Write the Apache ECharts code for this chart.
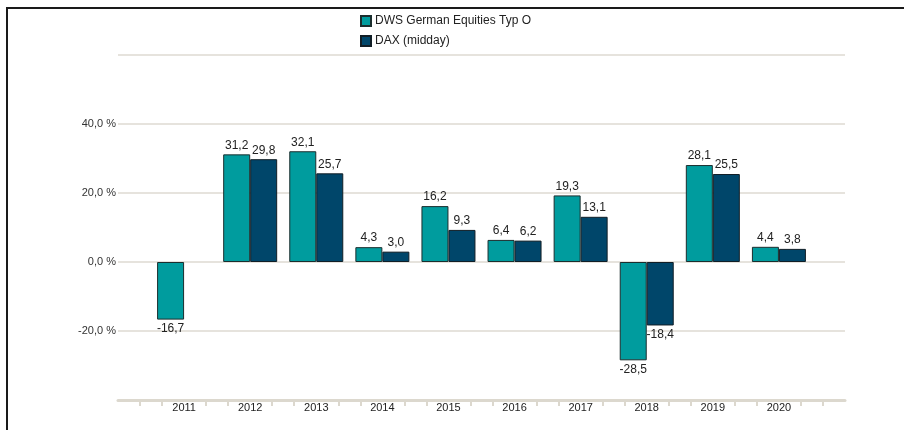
<!DOCTYPE html>
<html>
<head>
<meta charset="utf-8">
<script src="https://cdn.jsdelivr.net/npm/echarts@6/dist/echarts.min.js"></script>
<style>
html,body{margin:0;padding:0;background:#fff;}
#chart{width:904px;height:430px;}
</style>
</head>
<body>
<div id="chart"></div>
<script>
const years = ['2011','2012','2013','2014','2015','2016','2017','2018','2019','2020'];
const dwsValues = [-16.7, 31.2, 32.1, 4.3, 16.2, 6.4, 19.3, -28.5, 28.1, 4.4];
const daxValues = [null, 29.8, 25.7, 3.0, 9.3, 6.2, 13.1, -18.4, 25.5, 3.8];
const seriesNames = ['DWS German Equities Typ O', 'DAX (midday)'];
const yTickLabels = [-20, 0, 20, 40];

const categories = [''].concat(years, ['']);
function fmt(v){ return v.toFixed(1).replace('.', ','); }
function toData(arr){
  const out = [null];
  arr.forEach(v => {
    if (v === null) { out.push(null); return; }
    out.push({ value: v, label: { position: v < 0 ? 'bottom' : 'top' } });
  });
  out.push(null);
  return out;
}

const chart = echarts.init(document.getElementById('chart'));
const font = 'Liberation Sans, Arial, sans-serif';
const labelStyle = {
  show: true, fontSize: 12, color: '#222', fontFamily: font, distance: 3,
  formatter: p => (p.value === null || p.value === undefined) ? '' : fmt(p.value)
};
chart.setOption({
  animation: false,
  textStyle: { fontFamily: font },
  graphic: [{
    type: 'rect', shape: { x: 7, y: 8, width: 1200, height: 1200 },
    style: { fill: 'none', stroke: '#1a1a1a', lineWidth: 2 }, silent: true
  }],
  legend: {
    orient: 'vertical', left: 355, top: 10, itemGap: 8,
    itemWidth: 10, itemHeight: 10, icon: 'rect',
    textStyle: { fontSize: 12, color: '#222', fontFamily: font, padding: [0, 0, 0, -1] },
    data: seriesNames
  },
  grid: { left: 118, right: 59, top: 55, bottom: 30, containLabel: false },
  xAxis: [{
    type: 'category', data: categories, boundaryGap: false,
    axisLine: { show: true, onZero: false, lineStyle: { color: '#dcd8ce', width: 3 } },
    axisTick: { show: false },
    axisLabel: { show: true, interval: 0, fontSize: 11, color: '#222', margin: 2, fontFamily: font },
    splitLine: { show: false }
  }, {
    type: 'value', min: 0, max: 11, interval: 1, position: 'bottom',
    axisLine: { show: false, onZero: false },
    axisTick: { show: false },
    minorTick: { show: true, splitNumber: 3, length: 6, lineStyle: { color: '#dcd8ce', width: 2 } },
    axisLabel: { show: false },
    splitLine: { show: false }
  }],
  yAxis: {
    type: 'value', min: -40, max: 60, interval: 20,
    axisLine: { show: false }, axisTick: { show: false },
    axisLabel: {
      fontSize: 11, color: '#333', margin: 2, fontFamily: font,
      formatter: v => yTickLabels.indexOf(v) >= 0 ? fmt(v) + ' %' : ''
    },
    splitLine: { lineStyle: { color: '#dedad2', width: 1.5 } }
  },
  series: [{
    name: seriesNames[0], type: 'bar', xAxisIndex: 0,
    data: toData(dwsValues), barWidth: 27, barGap: '0%',
    itemStyle: { color: '#009c9e', borderColor: '#1b2e2e', borderWidth: 1 },
    label: labelStyle
  }, {
    name: seriesNames[1], type: 'bar', xAxisIndex: 0,
    data: toData(daxValues), barWidth: 27, barGap: '0%',
    itemStyle: { color: '#00466a', borderColor: '#111e26', borderWidth: 1 },
    label: labelStyle
  }]
});
</script>
</body>
</html>
